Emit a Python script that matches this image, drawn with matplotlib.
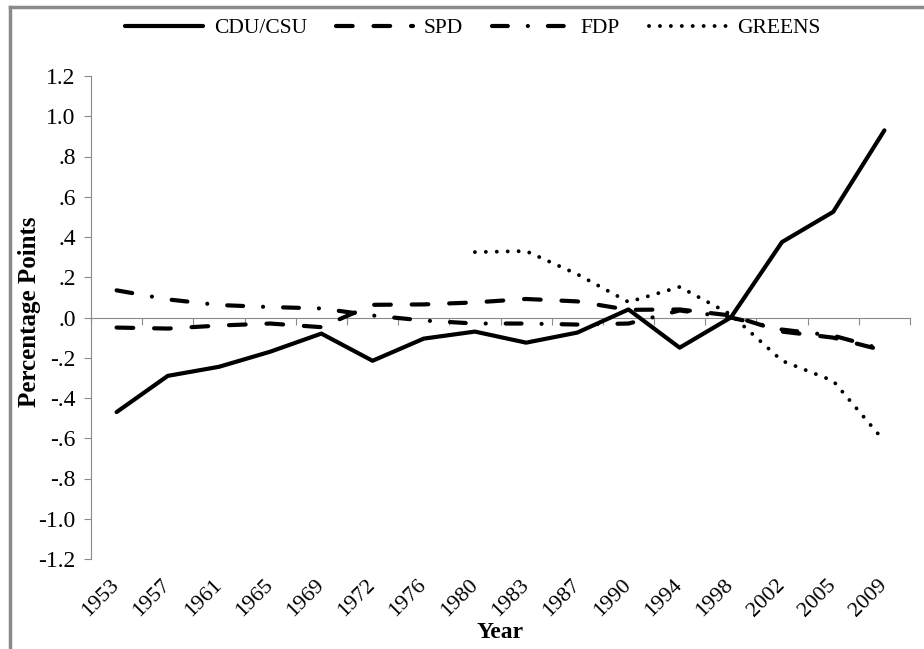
import matplotlib
matplotlib.use('Agg')
from matplotlib import pyplot as plt
from matplotlib.lines import Line2D
from matplotlib.ticker import FuncFormatter
import numpy as np

plt.rcParams['font.family'] = ['Liberation Serif', 'DejaVu Serif']

# election years (categories)
years = ['1953', '1957', '1961', '1965', '1969', '1972', '1976', '1980',
         '1983', '1987', '1990', '1994', '1998', '2002', '2005', '2009']

# values (percentage points)
cdu = [-0.47, -0.29, -0.245, -0.17, -0.08, -0.215, -0.105, -0.07,
       -0.125, -0.075, 0.04, -0.15, 0.0, 0.375, 0.525, 0.93]
spd = [-0.05, -0.055, -0.04, -0.03, -0.048, 0.063, 0.065, 0.075,
       0.092, 0.08, 0.038, 0.04, 0.01, -0.07, -0.1, -0.165]
fdp = [0.135, 0.09, 0.062, 0.052, 0.045, 0.01, -0.015, -0.03,
       -0.03, -0.035, -0.03, 0.035, 0.0, -0.06, -0.09, -0.16]
greens = [np.nan] * 7 + [0.325, 0.33, 0.215, 0.077, 0.152, 0.015,
                         -0.215, -0.315, -0.615]

gray = '#8a8a8a'
W, H = 924, 649

fig = plt.figure(figsize=(W / 100, H / 100), dpi=100)
ax = fig.add_axes([91 / W, 1 - 559 / H, (910 - 91) / W, (559 - 76) / H])

x = np.arange(len(years))
ax.plot(x, cdu, color='black', lw=3, solid_capstyle='round', label='CDU/CSU')
ax.plot(x, spd, color='black', lw=3, ls=(0, (4, 5)), dash_capstyle='round', label='SPD')
ax.plot(x, fdp, color='black', lw=3, ls=(0, (3.8, 4.8, 0.01, 4.8)),
        dash_capstyle='round', label='FDP')
ax.plot(x, greens, color='black', lw=2.8, ls=(0, (0.01, 2.8)),
        dash_capstyle='round', label='GREENS')

ax.set_xlim(-0.5, len(years) - 0.5)
ax.set_ylim(-1.2, 1.2)


def fmt(v, pos):
    s = '%.1f' % v
    if s == '-0.0':
        s = '0.0'
    return s.replace('0.', '.', 1) if s.lstrip('-').startswith('0.') else s


ax.set_yticks(np.round(np.arange(-1.2, 1.21, 0.2), 1))
ax.yaxis.set_major_formatter(FuncFormatter(fmt))
for s in ['top', 'right', 'bottom']:
    ax.spines[s].set_visible(False)
ax.spines['left'].set_color(gray)
ax.tick_params(axis='y', length=5, color=gray, labelsize=17, pad=6)

ax.set_xticks(x)
ax.set_xticklabels(years, rotation=45, ha='right', va='center', rotation_mode='anchor')
ax.tick_params(axis='x', length=0, pad=17, labelsize=16)

# zero line with ticks between categories
sec = ax.secondary_xaxis(0.5)
sec.set_alignment('bottom')
sec.set_xticks(np.arange(-0.5, len(years), 1))
sec.tick_params(axis='x', length=5, color=gray, direction='out', labelbottom=False, labeltop=False)
for s in sec.spines.values():
    s.set_color(gray)

fig.legend(loc='center', bbox_to_anchor=(473 / W, 1 - 28 / H), ncol=4, frameon=False,
           fontsize=15.5, handlelength=3.6, columnspacing=1.35, handletextpad=0.5)

fig.text(30 / W, 1 - 312 / H, 'Percentage Points', rotation=90, ha='center', va='center',
         fontsize=18, fontweight='bold')
fig.text(500 / W, 1 - 633 / H, 'Year', ha='center', va='center', fontsize=17, fontweight='bold')

# picture frame (left and top edges)
fig.add_artist(Line2D([10 / W, 10 / W], [0, 1 - 7 / H], transform=fig.transFigure,
                      color=gray, lw=2.5))
fig.add_artist(Line2D([10 / W, 1], [1 - 7 / H, 1 - 7 / H], transform=fig.transFigure,
                      color=gray, lw=2.5))

fig.savefig('out.png', dpi=100)
